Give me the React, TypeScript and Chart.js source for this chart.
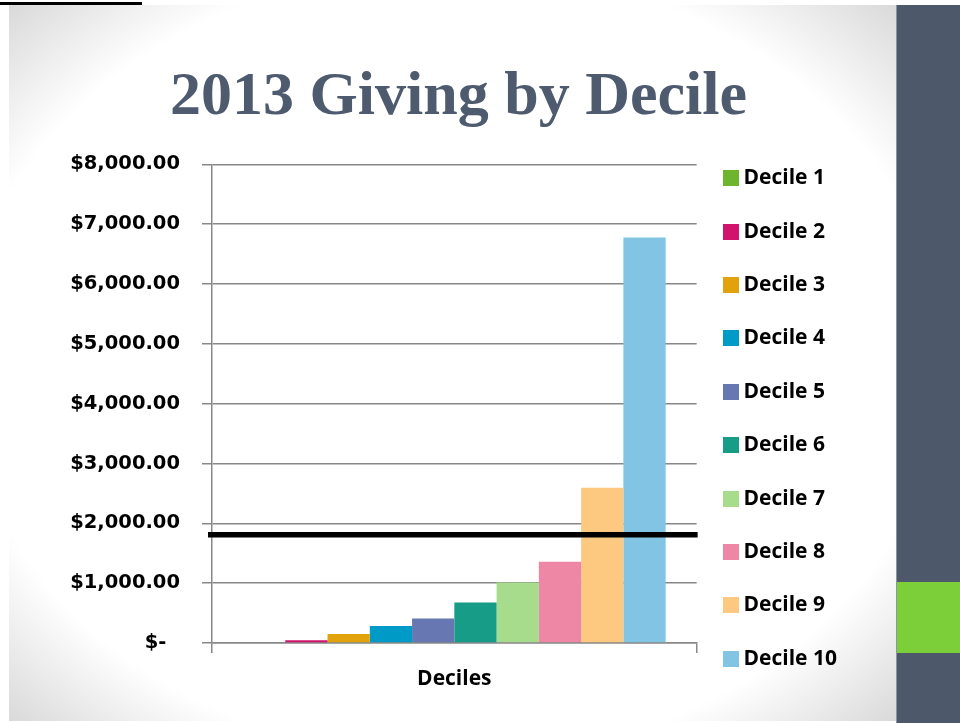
import React, { useEffect, useRef } from "react";
import { Chart, registerables } from "chart.js";

Chart.register(...registerables);

const CHART_TITLE = "2013 Giving by Decile";
const X_TITLE = "Deciles";
const CATEGORIES = [""];
const SERIES_NAMES = [
  "Decile 1", "Decile 2", "Decile 3", "Decile 4", "Decile 5",
  "Decile 6", "Decile 7", "Decile 8", "Decile 9", "Decile 10",
];
const SERIES_VALUES = [0, 45, 150, 283, 410, 675, 1010, 1360, 2595, 6780];
const SERIES_COLORS = [
  "#6cb52d", "#d1136c", "#e2a20b", "#009ac7", "#6777b1",
  "#179d87", "#a7dc8c", "#ee86a5", "#fdc981", "#82c4e4",
];
const Y_TICK_LABELS = [
  "$-  ", "$1,000.00", "$2,000.00", "$3,000.00", "$4,000.00",
  "$5,000.00", "$6,000.00", "$7,000.00", "$8,000.00",
];
const THRESHOLD = 1810;

const GRID = "#888888";

function makeSwatch(color: string) {
  const c = document.createElement("canvas");
  c.width = 16;
  c.height = 16;
  const g = c.getContext("2d")!;
  g.fillStyle = color;
  g.fillRect(0, 0, 16, 16);
  return c;
}

const thresholdPlugin = {
  id: "thresholdLine",
  afterDatasetsDraw(chart: any) {
    const { ctx, chartArea, scales } = chart;
    const y = scales.y.getPixelForValue(THRESHOLD);
    ctx.save();
    ctx.strokeStyle = "#000";
    ctx.lineWidth = 5.5;
    ctx.beginPath();
    ctx.moveTo(chartArea.left - 4, y);
    ctx.lineTo(chartArea.right + 1, y);
    ctx.stroke();
    ctx.restore();
  },
};

export default function App() {
  const canvasRef = useRef<HTMLCanvasElement | null>(null);

  useEffect(() => {
    if (!canvasRef.current) return;
    const swatches = SERIES_COLORS.map(makeSwatch);
    const chart = new Chart(canvasRef.current, {
      type: "bar",
      data: {
        labels: CATEGORIES,
        datasets: SERIES_NAMES.map((name, i) => ({
          label: name,
          data: [SERIES_VALUES[i]],
          backgroundColor: SERIES_COLORS[i],
          borderWidth: 0,
          barPercentage: 1.0,
          categoryPercentage: 0.872,
        })),
      },
      options: {
        animation: false,
        responsive: true,
        maintainAspectRatio: false,
        layout: { padding: { left: 50, right: 50, top: 0, bottom: 0 } },
        plugins: {
          tooltip: { enabled: false },
          title: {
            display: true,
            text: CHART_TITLE,
            color: "#4e5a6e",
            font: { family: "'Liberation Serif'", size: 62, weight: "bold", lineHeight: 1.2 },
            padding: { top: 61, bottom: 29 },
          },
          legend: {
            display: true,
            position: "right",
            align: "center",
            title: {
              display: true,
              text: "",
              font: { size: 10, lineHeight: 1 },
              padding: { top: 104, bottom: 0 },
            },
            labels: {
              usePointStyle: true,
              pointStyleWidth: 4,
              padding: 32.4,
              color: "#000",
              font: { family: "'Open Sans'", size: 21, weight: "bold", lineHeight: 1.2 },
              generateLabels: (c: any) => {
                const items = (Chart.defaults.plugins.legend.labels as any).generateLabels(c);
                return items.map((it: any, i: number) => ({ ...it, pointStyle: swatches[i], lineWidth: 0 }));
              },
            },
          },
        },
        scales: {
          x: {
            type: "category",
            offset: true,
            grid: {
              display: true,
              drawOnChartArea: false,
              drawTicks: true,
              tickLength: 10,
              offset: true,
              color: GRID,
              lineWidth: 1.5,
            },
            border: { display: true, color: GRID, width: 1.5 },
            ticks: { display: false },
            title: {
              display: true,
              text: X_TITLE,
              color: "#000",
              font: { family: "'Open Sans'", size: 21, weight: "bold", lineHeight: 1.2 },
              padding: { top: 13, bottom: 31.8 },
            },
          },
          y: {
            min: 0,
            max: 8000,
            ticks: {
              stepSize: 1000,
              padding: 22,
              color: "#000",
              font: { family: "'DejaVu Sans'", size: 19.5, weight: "bold" },
              callback: (_v: any, i: number) => Y_TICK_LABELS[i],
            },
            grid: {
              color: GRID,
              lineWidth: 1.5,
              tickLength: 10,
              drawTicks: true,
            },
            border: { display: true, color: GRID, width: 1.5 },
            afterFit: (scale: any) => {
              scale.width = 142;
            },
          },
        },
      } as any,
      plugins: [thresholdPlugin],
    });
    return () => chart.destroy();
  }, []);

  return (
    <div
      style={{
        position: "absolute",
        left: 0,
        top: 0,
        width: 960,
        height: 723,
        background: "#ffffff",
        overflow: "hidden",
      }}
    >
      <div
        style={{
          position: "absolute",
          left: 9,
          top: 5,
          width: 888,
          height: 716,
          background:
            "radial-gradient(ellipse farthest-corner at 50% 50%, #ffffff 78%, #d9d9d9 100%)",
        }}
      />
      <div style={{ position: "absolute", left: 0, top: 2, width: 142, height: 3, background: "#000" }} />
      <div
        style={{
          position: "absolute",
          left: 896,
          top: 5,
          width: 64,
          height: 718,
          background: "#4d596b",
          borderLeft: "1px solid #8a94a2",
          boxSizing: "border-box",
        }}
      />
      <div style={{ position: "absolute", left: 897, top: 582, width: 63, height: 71, background: "#7dcf3a" }} />
      <div style={{ position: "absolute", left: 20, top: 0, width: 877, height: 723 }}>
        <canvas ref={canvasRef} />
      </div>
    </div>
  );
}
